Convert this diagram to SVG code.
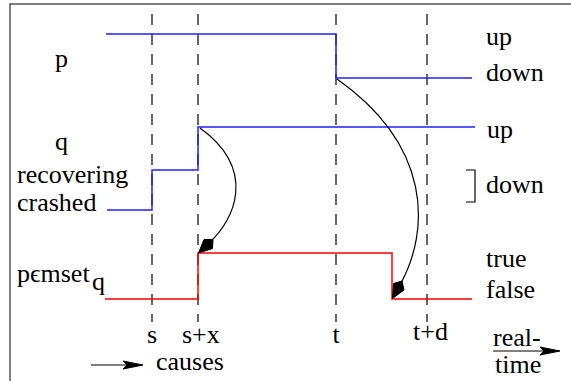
<svg xmlns="http://www.w3.org/2000/svg" width="571" height="381" viewBox="0 0 571 381">
<style>
text{font-family:"Liberation Serif","Times New Roman",serif;font-size:26px;fill:#000}
.dash{stroke:#000;stroke-width:1.2;stroke-dasharray:11 9;fill:none}
.blue{stroke:#2020ff;stroke-width:1.5;fill:none}
.red{stroke:#ff0000;stroke-width:1.5;fill:none}
.cause{stroke:#000;stroke-width:1.2;fill:none}
.head{fill:#000;stroke:#000;stroke-width:1;stroke-linejoin:miter}
</style>
<path d="M10,381 L10,4 L571,4" fill="none" stroke="#555" stroke-width="1.5"/>
<g id="guides">
<line class="dash" x1="152" y1="14" x2="152" y2="322"/>
<line class="dash" x1="198" y1="14" x2="198" y2="322"/>
<line class="dash" x1="336" y1="14" x2="336" y2="322"/>
<line class="dash" x1="427" y1="14" x2="427" y2="322"/>
</g>
<g id="p-signal">
<polyline class="blue" points="106,34 336,34 336,78 472,78"/>
<text x="55" y="67">p</text>
<text x="486" y="45">up</text>
<text x="486" y="81">down</text>
</g>
<g id="q-signal">
<polyline class="blue" points="107,210 152,210 152,170 198,170 198,127 475,127"/>
<text x="55" y="150">q</text>
<text x="17" y="183">recovering</text>
<text x="17" y="211">crashed</text>
<text x="487" y="138">up</text>
<polyline points="466,170 475,170 475,202 466,202" fill="none" stroke="#000" stroke-width="1.2"/>
<text x="486" y="193">down</text>
</g>
<g id="pmset-signal">
<polyline class="red" points="105,299 198,299 198,253 392,253 392,299 472,299"/>
<text x="17" y="282">p&#1013;mset</text>
<text x="92" y="290">q</text>
<text x="486" y="267">true</text>
<text x="486" y="298">false</text>
</g>
<g id="labels">
<text x="152" y="343" text-anchor="middle">s</text>
<text x="182" y="343">s+x</text>
<text x="336" y="343" text-anchor="middle">t</text>
<text x="413" y="340">t+d</text>
<text x="493" y="346" font-size="22">real-</text>
<text x="495" y="373" font-size="25">time</text>
<text x="156" y="370">causes</text>
</g>
<g id="connectors">
<path class="cause" d="M200,128 C258,170 234,220 210,242"/>
<path class="head" d="M198.5,253 L212.5,248.5 L213,239.5 L204,239.5 Z"/>
<path class="cause" d="M337,79 C432,146 430,230 400.5,284"/>
<path class="head" d="M392.5,298.5 L404,290 L402,281 L393.5,283.5 Z"/>
<line class="cause" x1="91" y1="365" x2="130" y2="365"/>
<path class="head" d="M143,365 L123,361 L127,365 L123,369 Z"/>
<line class="cause" x1="493" y1="351" x2="546" y2="351"/>
<path class="head" d="M560,351 L540,347 L544,351 L540,355 Z"/>
</g>
</svg>
